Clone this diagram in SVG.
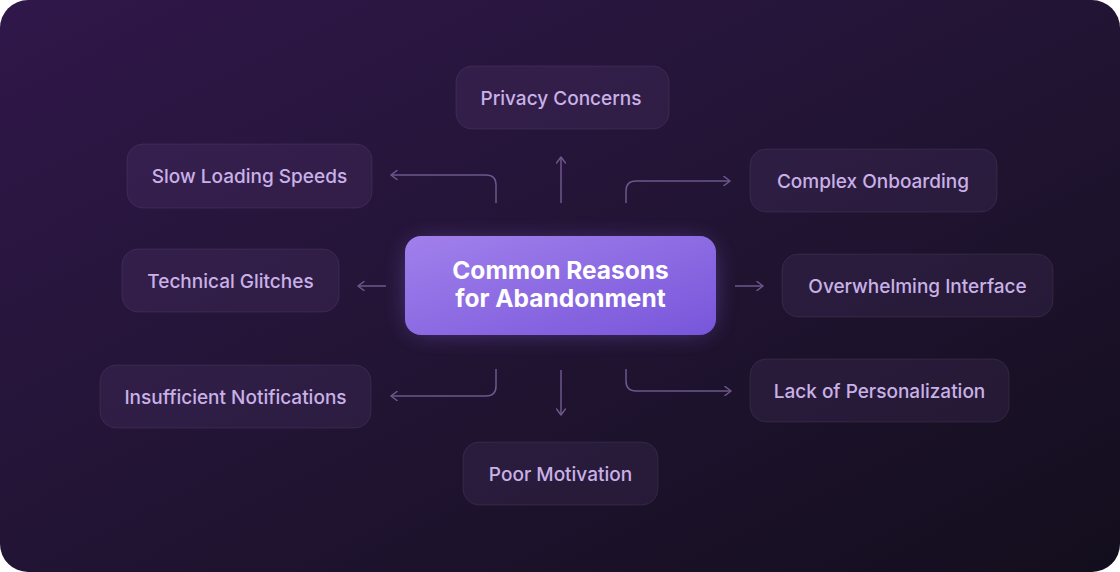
<svg xmlns="http://www.w3.org/2000/svg" width="1120" height="572" viewBox="0 0 1120 572">
<defs>
<linearGradient id="bg" x1="0" y1="0" x2="1" y2="1">
<stop offset="0" stop-color="#30174a"/>
<stop offset="0.5" stop-color="#221434"/>
<stop offset="1" stop-color="#130e1d"/>
</linearGradient>
<linearGradient id="hub" x1="0" y1="0" x2="1" y2="1">
<stop offset="0" stop-color="#a180ec"/>
<stop offset="1" stop-color="#7856da"/>
</linearGradient>
<filter id="glow" x="-30%" y="-50%" width="160%" height="200%">
<feGaussianBlur stdDeviation="12"/>
</filter>
<marker id="ah" viewBox="0 0 10 10" refX="9" refY="5" markerWidth="10" markerHeight="10" markerUnits="userSpaceOnUse" orient="auto">
<path d="M3,0.5 L9,5 L3,9.5" fill="none" stroke="#6e578c" stroke-width="1.5" stroke-linecap="round" stroke-linejoin="round"/>
</marker>
</defs>
<style>
.node rect{fill:rgba(200,160,255,0.07);stroke:rgba(255,255,255,0.07);stroke-width:1}
.node text{font-family:Inter,"Noto Sans",sans-serif;font-size:19px;font-weight:500;fill:#c9b1e8;text-anchor:middle;dominant-baseline:central}
.conn path{fill:none;stroke:#6e578c;stroke-width:1.5;marker-end:url(#ah)}
.hubtext{font-family:Inter,"Noto Sans",sans-serif;font-size:24.5px;font-weight:700;fill:#ffffff;text-anchor:middle}
</style>
<rect x="0" y="0" width="1120" height="572" rx="28" fill="url(#bg)"/>

<g id="connectors" class="conn">
<path d="M496,203 V185 Q496,175 486,175 H391"/>
<path d="M561,203 V157"/>
<path d="M626,203 V191 Q626,181 636,181 H730"/>
<path d="M386,286 H358"/>
<path d="M735,286 H763"/>
<path d="M496,369 V386 Q496,396 486,396 H391"/>
<path d="M561,370 V415"/>
<path d="M626,369 V381 Q626,391 636,391 H731"/>
</g>

<g id="hub">
<rect x="410" y="244" width="301" height="86" rx="16" fill="#8a66e6" opacity="0.55" filter="url(#glow)"/>
<rect x="405" y="236" width="311" height="99" rx="16" fill="url(#hub)"/>
<text class="hubtext" x="560.5" y="279">Common Reasons</text>
<text class="hubtext" x="560.5" y="307">for Abandonment</text>
</g>

<g id="privacy" class="node"><rect x="456" y="66" width="213" height="63" rx="16"/><text x="561" y="98">Privacy Concerns</text></g>
<g id="slow" class="node"><rect x="127" y="144" width="245" height="64" rx="16"/><text x="249.5" y="176">Slow Loading Speeds</text></g>
<g id="complex" class="node"><rect x="750" y="149" width="247" height="63" rx="16"/><text x="873" y="181">Complex Onboarding</text></g>
<g id="technical" class="node"><rect x="122" y="249" width="217" height="63" rx="16"/><text x="230.5" y="281">Technical Glitches</text></g>
<g id="overwhelming" class="node"><rect x="782" y="254" width="271" height="63" rx="16"/><text x="917.5" y="286">Overwhelming Interface</text></g>
<g id="insufficient" class="node"><rect x="100" y="365" width="271" height="63" rx="16"/><text x="235.5" y="397">Insufficient Notifications</text></g>
<g id="lack" class="node"><rect x="750" y="359" width="259" height="63" rx="16"/><text x="879.5" y="391">Lack of Personalization</text></g>
<g id="poor" class="node"><rect x="463" y="442" width="195" height="63" rx="16"/><text x="560.5" y="474">Poor Motivation</text></g>
</svg>
